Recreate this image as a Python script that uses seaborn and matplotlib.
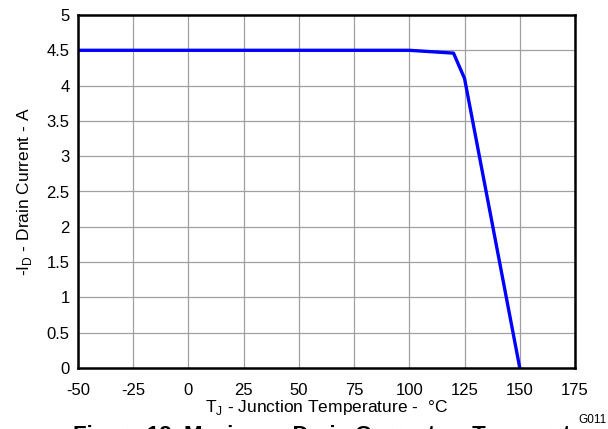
import matplotlib
matplotlib.use("Agg")
import matplotlib.pyplot as plt
import seaborn as sns
import pandas as pd

temperature = [-50, 100, 120, 125, 150]
drain_current = [4.5, 4.5, 4.46, 4.1, 0.0]
x_ticks = [-50, -25, 0, 25, 50, 75, 100, 125, 150, 175]
y_ticks = [0, 0.5, 1, 1.5, 2, 2.5, 3, 3.5, 4, 4.5, 5]

sns.set_theme(style="whitegrid")
plt.rcParams['font.family'] = ['Liberation Sans', 'DejaVu Sans']
plt.rcParams['mathtext.fontset'] = 'custom'
plt.rcParams['mathtext.rm'] = 'Liberation Sans'

df = pd.DataFrame({"T": temperature, "I": drain_current})

fig = plt.figure(figsize=(6.08, 4.29), dpi=100)
ax = fig.add_axes([78/608, 1-368/429, (575-78)/608, (368-15)/429])
sns.lineplot(data=df, x="T", y="I", ax=ax, color="#0000FF", linewidth=2.4, sort=False)

ax.set_xlim(-50, 175)
ax.set_ylim(0, 5)
ax.set_xticks(x_ticks)
ax.set_yticks(y_ticks)
ax.set_xticklabels([str(v) for v in x_ticks])
ax.set_yticklabels([f"{v:g}" for v in y_ticks])
ax.tick_params(axis='x', labelsize=12, colors='black', length=0, pad=11)
ax.tick_params(axis='y', labelsize=12, colors='black', length=0, pad=6)
ax.grid(True, color='#a0a0a0', linewidth=0.9)
ax.set_facecolor('white')
for s in ax.spines.values():
    s.set_color('black')
    s.set_linewidth(1.8)

ax.set_xlabel(r"T$_\mathregular{J}$ - Junction Temperature -  °C", fontsize=12.5, color='black', labelpad=0)
ax.set_ylabel(r"-I$_\mathregular{D}$ - Drain Current - A", fontsize=12.5, color='black', labelpad=9)

fig.text(607/608, 1-420/429, "G011", fontsize=8.5, ha='right', va='center', color='black')
fig.text(73/608, 1-425/429, "Figure 12. Maximum Drain Current vs Temperature",
         fontsize=16, fontweight='bold', ha='left', va='top', color='black')

fig.savefig("out.png", dpi=100)
